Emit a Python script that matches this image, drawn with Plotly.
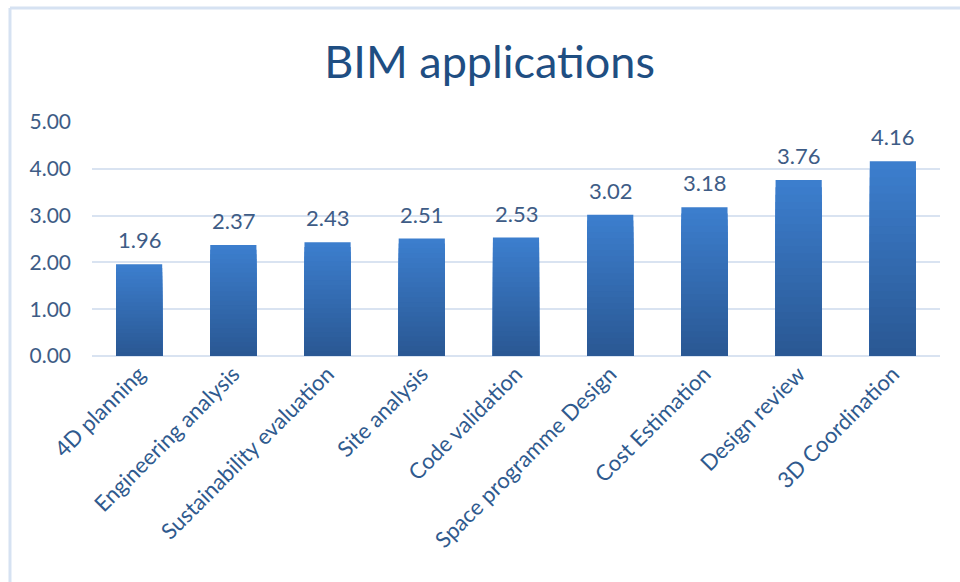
import plotly.graph_objects as go

categories = ["4D planning", "Engineering analysis", "Sustainability evaluation",
              "Site analysis", "Code validation", "Space programme Design",
              "Cost Estimation", "Design review", "3D Coordination"]
values = [1.96, 2.37, 2.43, 2.51, 2.53, 3.02, 3.18, 3.76, 4.16]
y_ticks = [0, 1, 2, 3, 4, 5]
y_tick_labels = ["0.00", "1.00", "2.00", "3.00", "4.00", "5.00"]
title_text = "BIM applications"

FONT = "Lato, 'Open Sans', sans-serif"
TEXT = "#3E5C86"
top_rgb = (60, 126, 205)
bot_rgb = (42, 88, 148)

fig = go.Figure()
N = 24
for k in range(N):
    f = 1 - k / N
    t = k / (N - 1)
    r = round(top_rgb[0] + (bot_rgb[0] - top_rgb[0]) * t)
    g = round(top_rgb[1] + (bot_rgb[1] - top_rgb[1]) * t)
    b = round(top_rgb[2] + (bot_rgb[2] - top_rgb[2]) * t)
    fig.add_trace(go.Bar(
        x=categories,
        y=[v * f for v in values],
        marker=dict(color=f"rgb({r},{g},{b})", line=dict(width=0)),
        hoverinfo="skip" if k else None,
        showlegend=False,
    ))

annotations = [
    dict(x=c, y=v, xref="x", yref="y", text=f"{v:.2f}", showarrow=False,
         yanchor="bottom", yshift=9,
         font=dict(family=FONT, size=22, color=TEXT))
    for c, v in zip(categories, values)
]

fig.update_layout(
    width=960, height=582,
    barmode="overlay",
    bargap=0.51,
    paper_bgcolor="white", plot_bgcolor="white",
    margin=dict(l=92, r=20, t=122, b=226),
    title=dict(text=title_text, x=0.51, xanchor="center", y=0.893, yanchor="middle",
               font=dict(family=FONT, size=45, color="#1F4E82")),
    font=dict(family=FONT, color=TEXT),
    xaxis=dict(tickangle=-45, tickfont=dict(size=22, color="#2F5A8E"),
               showgrid=False, showline=False, ticks="", ticklen=0),
    yaxis=dict(range=[0, 5], tickvals=y_ticks, ticktext=y_tick_labels,
               tickfont=dict(size=21, color=TEXT),
               showgrid=True, gridcolor="#D9E3F1", gridwidth=2,
               zeroline=True, zerolinecolor="#D9E3F1", zerolinewidth=2,
               ticks="", ticklabelstandoff=20),
    annotations=annotations,
    shapes=[
        dict(type="line", xref="paper", yref="paper", x0=-0.0967, x1=1.03,
             y0=1.487, y1=1.487, line=dict(color="#D6E2F2", width=3)),
        dict(type="line", xref="paper", yref="paper", x0=-0.0967, x1=-0.0967,
             y0=1.487, y1=-1.0, line=dict(color="#D6E2F2", width=3)),
    ],
)

fig.write_html("out.html", config={"displayModeBar": False},
               post_script="document.body.style.margin='0';")
